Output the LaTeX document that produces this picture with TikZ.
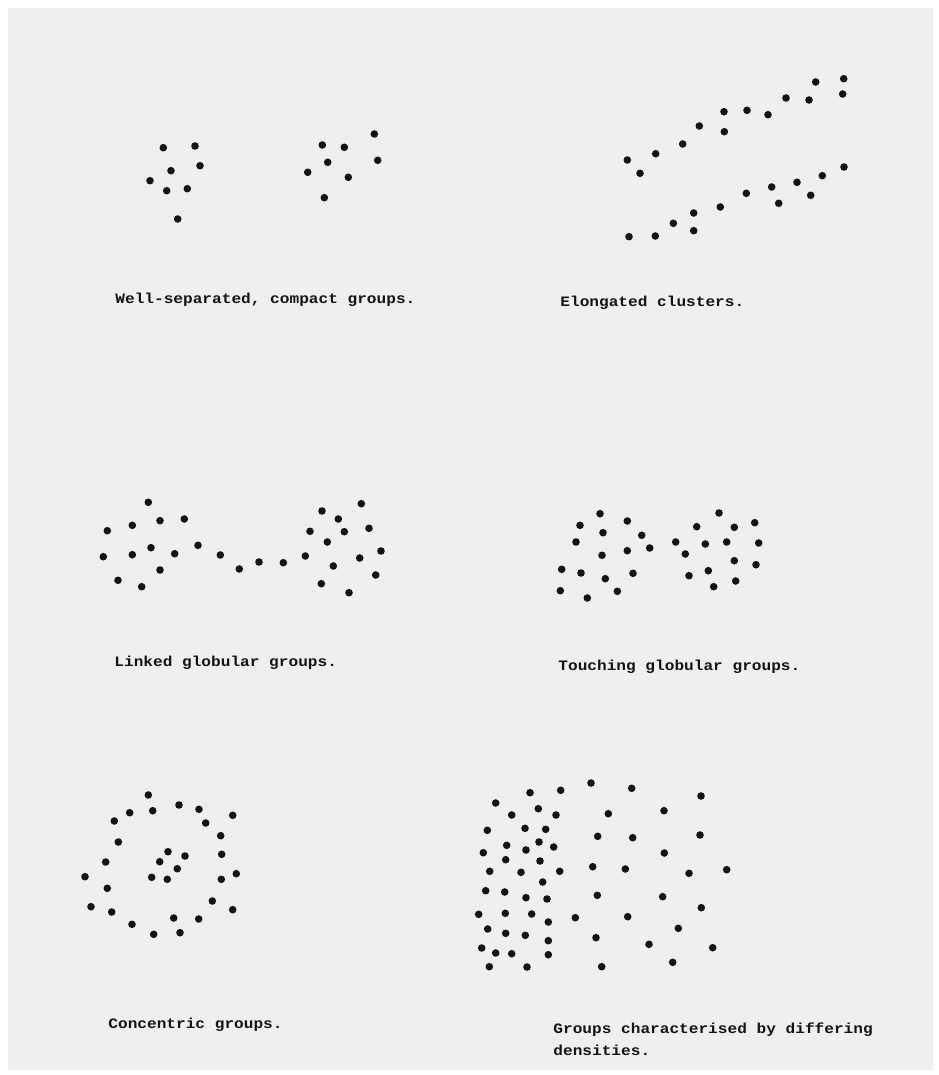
\documentclass[tikz,border=0pt]{standalone}
\usepackage{fontspec}
\setmonofont[FakeStretch=1.12]{Liberation Mono}
\definecolor{paper}{RGB}{239,239,239}
\definecolor{ink}{RGB}{20,20,20}
\tikzset{
  dotmark/.style={fill=ink},
  caption/.style={anchor=base west, inner sep=0pt, text=ink,
    font=\ttfamily\bfseries\fontsize{7.2}{11}\selectfont, align=left}
}
\begin{document}
\begin{tikzpicture}[x=0.5pt,y=-0.5pt]
\useasboundingbox (0,0) rectangle (938,1075);
\fill[white] (0,0) rectangle (938,1075);
\fill[paper] (8,8) rectangle (933,1070);
% panel 1: well-separated, compact groups
\foreach \x/\y in {163.3/147.7,195/146,171/170.7,200/165.7,150/180.7,166.7/190.7,187.3/188.7,177.7/219,
  322.3/145,344.3/147.3,374.3/134,327.7/162.3,307.7/172.3,377.7/160.3,348.3/177.3,324.3/197.7}
  \fill[dotmark] (\x,\y) circle[radius=3.8];
% panel 2: elongated clusters
\foreach \x/\y in {627.3/160,640/173.3,655.7/153.7,682.7/144,699.3/126,724/111.7,724.3/131.7,747/110.3,
  768/114.7,786/98,809/100,815.7/82,843.7/78.7,842.7/94,
  629/236.7,655.3/236,673.3/223.3,693.7/213,693.7/230.7,720.3/207,746.3/193.3,771.7/187,778.7/203.3,
  797/182.3,810.7/195.3,822.3/175.7,844/167}
  \fill[dotmark] (\x,\y) circle[radius=3.8];
% panel 3: linked globular groups
\foreach \x/\y in {148.3/502.3,107.3/530.7,132.3/525.3,160/520.7,184.3/519,103.3/556.7,132.3/554.7,151/547.7,
  174.7/553.7,160/570,118/580.3,141.7/586.7,198/545.3,220.3/555,239.3/569,259/562,283.3/562.7,305.3/556,
  322/511,338.3/519,361.3/503.7,310/531.3,344.3/531.7,369/528.3,327.3/542,381/551,359.7/558,333.3/566,
  375.7/575,321.3/583.7,349/592.7}
  \fill[dotmark] (\x,\y) circle[radius=3.8];
% panel 4: touching globular groups
\foreach \x/\y in {600/513.7,580/525.3,627.3/521,603/532.7,641.7/535.3,576/542,649.7/548,627.3/550.7,
  602/555.3,561.7/569.3,581/573,633/573.3,605.3/578.7,560.3/590.7,617.3/591.3,587.3/598,
  719/513,696.7/526.7,734.3/527.3,754.7/522.7,675.7/542,705.3/544,726.7/542,758.7/543,685.3/554,
  734.3/560.7,756/564.7,708.3/570.7,689/575.7,735.7/581,713.7/586.7}
  \fill[dotmark] (\x,\y) circle[radius=3.8];
% panel 5: concentric groups
\foreach \x/\y in {148.3/795,152.7/810.7,129.7/812.7,114.3/821,179/805,199/809.3,232.7/815.3,205.7/823,
  118.3/842,220.7/835.7,221.7/854.3,105.7/862,85/876.7,236.3/873.7,221.3/879.3,107.3/888.3,212.3/901,
  91/906.7,111.7/912,232.7/909.7,198.7/919,173.7/918,132/924.3,153.7/934.3,180/932.7,
  168/851.7,185/856,159.7/861.7,177.3/868.7,151.7/877.3,167.3/879.3}
  \fill[dotmark] (\x,\y) circle[radius=3.8];
% panel 6: differing densities
\foreach \x/\y in {591/783,530/792.7,560.7/790.3,495.7/803,538.3/808.7,511.7/815,556/815,608.3/813.7,
  487.3/830.3,525/828.3,545.7/829.3,597.7/836.3,539/842,506.7/845.3,553.7/847,526/850,483.3/852.7,
  505.7/859.7,540/861,592.7/866.7,489.7/871.3,521/872.3,559.7/871.3,542.7/882,485.7/890.7,504.7/892,
  526/897.7,547/899,597.3/895.3,478.7/914.3,505.3/913.3,531.7/914,575.3/917.7,548.3/922,487.7/929,
  505.7/933.3,525.3/935.3,548.3/940.7,596/937.7,481.7/948,495.7/953,511.7/953.7,548.3/954.7,
  489.3/966.7,527/967,601.7/966.7,
  631.7/788.3,701/796,664/810.7,632.7/837.7,700/835,664.3/853,625.3/869,689/873.3,726.7/869.7,
  662.7/896.7,627.7/916.7,701.3/907.7,678.3/928.3,649/944.3,712.7/947.7,672.7/962.3}
  \fill[dotmark] (\x,\y) circle[radius=3.8];
% captions
\node[caption] (c1) at (115,303) {Well-separated, compact groups.};
\node[caption] (c2) at (560,306) {Elongated clusters.};
\node[caption] (c3) at (114,666) {Linked globular groups.};
\node[caption] (c4) at (558,670) {Touching globular groups.};
\node[caption] (c5) at (108,1028) {Concentric groups.};
\node[caption] (c6) at (553,1055) {Groups characterised by differing\\densities.};
\end{tikzpicture}
\end{document}
